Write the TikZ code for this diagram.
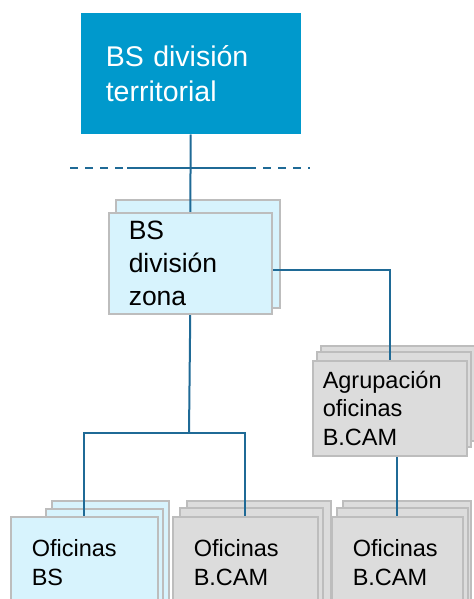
\documentclass[tikz,border=0pt]{standalone}
\usepackage{fontspec}
\setmainfont{Liberation Sans}
\usetikzlibrary{positioning,backgrounds}
\definecolor{bsblue}{HTML}{0099CC}
\definecolor{zonecyan}{HTML}{D7F3FD}
\definecolor{camgray}{HTML}{DCDCDC}
\definecolor{edgegray}{HTML}{BDBDBD}
\definecolor{linkblue}{HTML}{1F6A96}

\begin{document}
\begin{tikzpicture}[
    x=0.5pt, y=-0.5pt,
    box/.style={rectangle, draw=edgegray, line width=0.75pt, anchor=north west, align=left, inner ysep=0pt},
    topbox/.style={box, fill=bsblue, draw=none, text=white, font=\fontsize{14.25}{17.5}\selectfont},
    zonebox/.style={box, fill=zonecyan, font=\fontsize{13.25}{16.5}\selectfont},
    cambox/.style={box, fill=camgray, font=\fontsize{11.75}{14.25}\selectfont},
    bsbox/.style={box, fill=zonecyan, font=\fontsize{11.75}{14.25}\selectfont},
    zoneback/.style={draw=edgegray, line width=0.75pt, fill=zonecyan},
    camback/.style={draw=edgegray, line width=0.75pt, fill=camgray},
    link/.style={draw=linkblue, line width=1pt},
    dashlink/.style={link, dash pattern=on 4pt off 3.5pt}
]
    \useasboundingbox (0,0) rectangle (473,599);
    \clip (0,0) rectangle (473,599);

    % Boxes
    \node[topbox, minimum width=110pt, minimum height=60.5pt, inner xsep=12.5pt, text width=85pt] (terr) at (80,12) {BS división\\territorial};
    \node[zonebox, minimum width=81.5pt, minimum height=50.5pt, inner xsep=10pt, text width=61.5pt] (zona) at (108,212) {BS\\división\\zona};
    \node[cambox, minimum width=77pt, minimum height=47.5pt, inner xsep=5pt, text width=67pt] (agrup) at (312,360) {Agrupación\\oficinas\\B.CAM};
    \node[bsbox, minimum width=73.5pt, minimum height=46pt, inner xsep=10.5pt, text width=52.5pt] (ofbs) at (10,516) {Oficinas\\BS};
    \node[cambox, minimum width=72.5pt, minimum height=46pt, inner xsep=10.5pt, text width=51.5pt] (ofcam) at (172,516) {Oficinas\\B.CAM};
    \node[cambox, minimum width=65.5pt, minimum height=46pt, inner xsep=10.5pt, text width=44.5pt] (ofagr) at (331,516) {Oficinas\\B.CAM};

    \coordinate (dl) at (70,168);
    \coordinate (sl) at (127,168);
    \coordinate (sr) at (248,168);
    \coordinate (dr) at (310,168);
    \coordinate (split) at (189,433);
    \begin{scope}[on background layer]
        % Stacked copies behind the boxes
        \draw[zoneback] (116,200) rectangle (280,308);
        \draw[camback] (321,346) rectangle (475,441);
        \draw[camback] (317,352) rectangle (471,447);
        \draw[zoneback] (52,501) rectangle (169,610);
        \draw[zoneback] (46,509) rectangle (163,610);
        \draw[camback] (187,501) rectangle (331,610);
        \draw[camback] (180,508) rectangle (323,610);
        \draw[camback] (343,501) rectangle (471,610);
        \draw[camback] (337,508) rectangle (468,610);

        % Connectors
        \draw[link] (terr.south) -- (zona.north);
        \draw[dashlink] (dl) -- (sl);
        \draw[link] (sl) -- (sr);
        \draw[dashlink] (sr) -- (dr);
        \draw[link] (zona.south) -- (split);
        \draw[link] (ofbs.north) |- (split) -| (ofcam.north);
        \draw[link] ([yshift=-3.5pt]zona.east) -| (agrup.north);
        \draw[link] (agrup.south -| ofagr.north) -- (ofagr.north);
    \end{scope}
\end{tikzpicture}
\end{document}
